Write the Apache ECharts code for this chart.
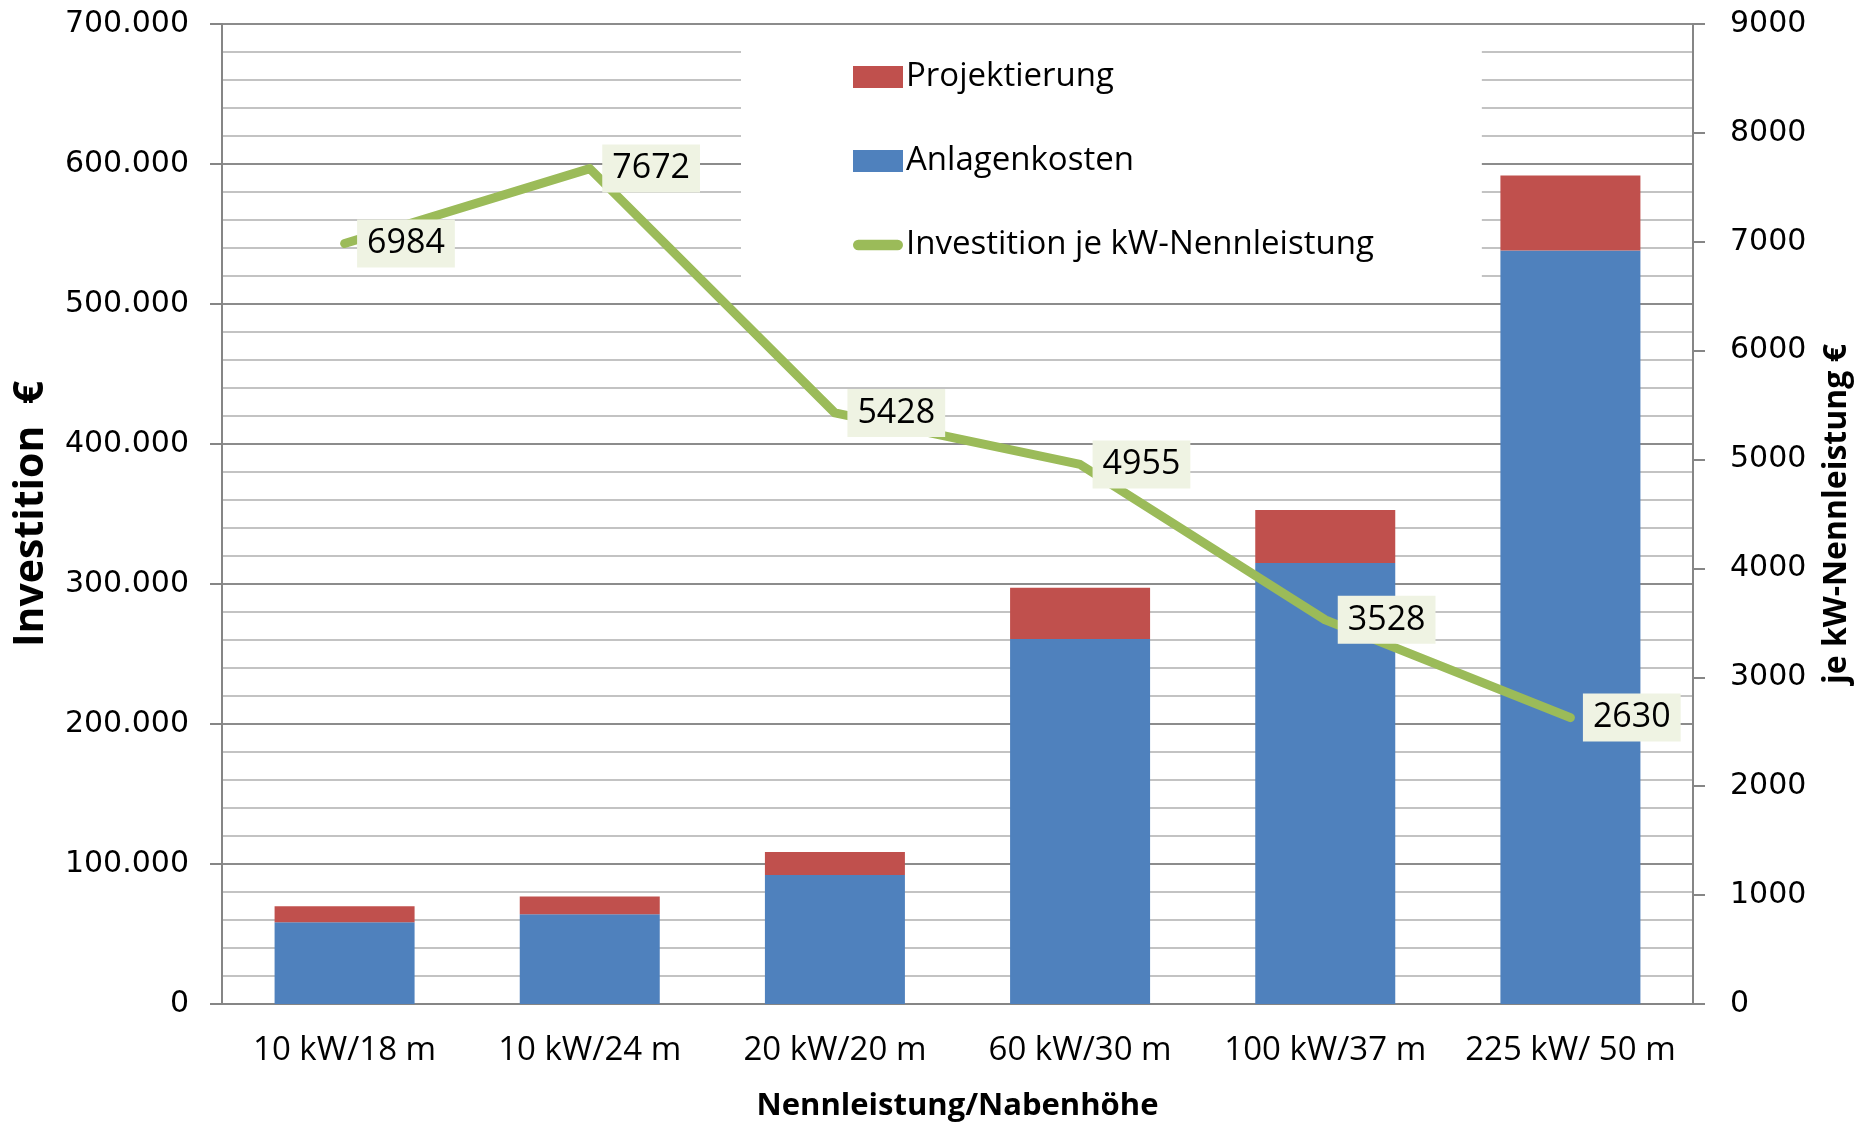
<!DOCTYPE html>
<html>
<head>
<meta charset="utf-8">
<script src="https://cdn.jsdelivr.net/npm/echarts@6/dist/echarts.min.js"></script>
<style>
  html, body { margin: 0; padding: 0; background: #fff; }
  #main { width: 1869px; height: 1123px; }
</style>
</head>
<body>
<div id="main"></div>
<script>
// Werte
var kategorien = ['10 kW/18 m', '10 kW/24 m', '20 kW/20 m', '60 kW/30 m', '100 kW/37 m', '225 kW/ 50 m'];
var anlagenkosten = [58400, 64100, 92100, 260700, 315000, 538200];
var projektierung = [11400, 12600, 16500, 36600, 37800, 53600];
var jeKW = [6984, 7672, 5428, 4955, 3528, 2630];

var txt = '"Open Sans", "Noto Sans", sans-serif';
var zahlen = '"DejaVu Sans", sans-serif';

var chart = echarts.init(document.getElementById('main'));

chart.setOption({
  animation: false,
  backgroundColor: '#fff',
  grid: { left: 222, right: 176, top: 24, bottom: 119, outerBoundsMode: 'none', containLabel: false },
  legend: {
    orient: 'vertical',
    left: 741,
    top: 36,
    padding: [24, 108, 28, 112],
    backgroundColor: '#fff',
    itemWidth: 50,
    itemHeight: 22,
    itemGap: 50,
    textStyle: { fontFamily: txt, fontSize: 33, color: '#000', lineHeight: 34, padding: [0, 0, 0, -2] },
    data: [
      { name: 'Projektierung', icon: 'rect' },
      { name: 'Anlagenkosten', icon: 'rect' },
      { name: 'Investition je kW-Nennleistung', icon: 'path://M6,0 H50 A6,6 0 0 1 50,12 H6 A6,6 0 0 1 6,0 Z' }
    ]
  },
  xAxis: {
    type: 'category',
    data: kategorien,
    axisLine: { lineStyle: { color: '#868686', width: 2 } },
    axisTick: { show: false },
    axisLabel: { fontFamily: txt, fontSize: 33, color: '#000', margin: 30, interval: 0 },
    name: 'Nennleistung/Nabenhöhe',
    nameLocation: 'middle',
    nameGap: 87,
    nameTextStyle: { fontFamily: txt, fontWeight: 'bold', fontSize: 31, color: '#000' }
  },
  yAxis: [
    {
      type: 'value',
      min: 0, max: 700000, interval: 100000,
      axisLine: { show: true, lineStyle: { color: '#868686', width: 2 } },
      axisTick: { show: true, length: 12, lineStyle: { color: '#868686', width: 2 } },
      axisLabel: {
        fontFamily: zahlen, fontSize: 30, color: '#000', margin: 33,
        formatter: function (v) { return String(v).replace(/\B(?=(\d{3})+(?!\d))/g, '.'); }
      },
      splitLine: { lineStyle: { color: '#8c8c8c', width: 2 } },
      minorTick: { show: false, splitNumber: 5 },
      minorSplitLine: { show: true, lineStyle: { color: '#c3c3c3', width: 2 } },
      name: 'Investition  €',
      nameLocation: 'middle',
      nameRotate: 90,
      nameGap: 170,
      nameTextStyle: { fontFamily: txt, fontWeight: 'bold', fontSize: 41, color: '#000' }
    },
    {
      type: 'value',
      min: 0, max: 9000, interval: 1000,
      position: 'right',
      axisLine: { show: true, lineStyle: { color: '#868686', width: 2 } },
      axisTick: { show: true, length: 12, lineStyle: { color: '#868686', width: 2 } },
      axisLabel: { fontFamily: zahlen, fontSize: 30, color: '#000', margin: 37, formatter: function (v) { return String(v); } },
      splitLine: { show: false },
      name: 'je kW-Nennleistung €',
      nameLocation: 'middle',
      nameRotate: 90,
      nameGap: 128,
      nameTextStyle: { fontFamily: txt, fontWeight: 'bold', fontSize: 32, color: '#000' }
    }
  ],
  series: [
    {
      name: 'Anlagenkosten',
      type: 'bar',
      stack: 'summe',
      barWidth: 140,
      itemStyle: { color: '#4F81BD' },
      data: anlagenkosten
    },
    {
      name: 'Projektierung',
      type: 'bar',
      stack: 'summe',
      barWidth: 140,
      itemStyle: { color: '#C0504D' },
      data: projektierung
    },
    {
      name: 'Investition je kW-Nennleistung',
      type: 'line',
      yAxisIndex: 1,
      symbol: 'circle',
      symbolSize: 1,
      showSymbol: true,
      z: 5,
      lineStyle: { color: '#9BBB59', width: 9, cap: 'round', join: 'round' },
      itemStyle: { color: '#9BBB59' },
      label: {
        show: true,
        position: 'right',
        distance: 12,
        fontFamily: txt,
        fontSize: 34,
        lineHeight: 38,
        color: '#000',
        backgroundColor: '#EFF3E3',
        padding: [5, 10, 5, 10]
      },
      data: jeKW
    }
  ]
});
</script>
</body>
</html>
